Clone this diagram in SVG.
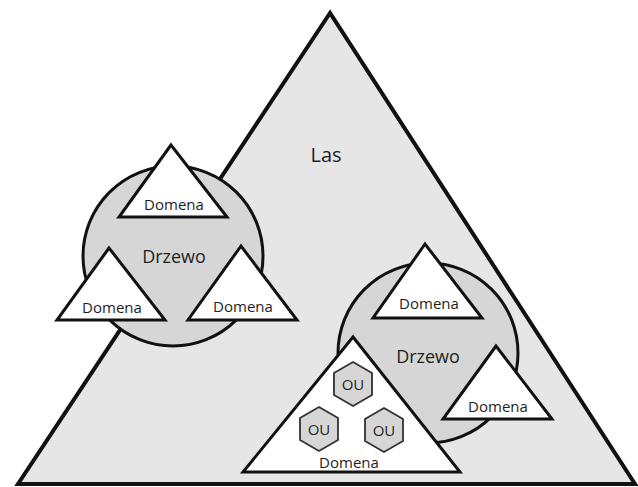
<svg xmlns="http://www.w3.org/2000/svg" width="638" height="487" viewBox="0 0 638 487">
<style>
.tri{fill:#ffffff;stroke:#111;stroke-width:3;stroke-linejoin:miter}
.tree{fill:#d6d6d6;stroke:#111;stroke-width:3}
.hex{fill:#d6d6d6;stroke:#333;stroke-width:1.8}
text{font-family:"Open Sans","Liberation Sans",sans-serif;fill:#1e1e1e;text-anchor:middle}
.dom{font-size:15px}
.drz{font-size:18px}
.ou{font-size:15px}
</style>
<rect width="638" height="487" fill="#ffffff"/>
<g id="las">
<polygon points="330,13 18,484 635,484" fill="#e6e6e6" stroke="#111" stroke-width="4" stroke-linejoin="miter"/>
<text x="326" y="162" style="font-size:20px">Las</text>
</g>
<g id="drzewo1">
<circle cx="173" cy="256" r="90" class="tree"/>
<text class="drz" x="174" y="263">Drzewo</text>
</g>
<g id="drzewo2">
<circle cx="428" cy="353" r="90" class="tree"/>
<text class="drz" x="428" y="363">Drzewo</text>
</g>
<g id="domena1">
<polygon class="tri" points="171,145 119,217 227,217"/>
<text class="dom" x="174" y="210">Domena</text>
</g>
<g id="domena2">
<polygon class="tri" points="109,248 57,320 165,320"/>
<text class="dom" x="112" y="313">Domena</text>
</g>
<g id="domena3">
<polygon class="tri" points="241,246 188,320 297,320"/>
<text class="dom" x="243" y="312">Domena</text>
</g>
<g id="domena4">
<polygon class="tri" points="425,244 373,318 482,318"/>
<text class="dom" x="429" y="309">Domena</text>
</g>
<g id="domena5">
<polygon class="tri" points="496,346 443,419 552,419"/>
<text class="dom" x="498" y="412">Domena</text>
</g>
<g id="domena6">
<polygon class="tri" points="353,337 243,472 460,472"/>
<text class="dom" x="349" y="468">Domena</text>
</g>
<g id="ou1">
<polygon class="hex" points="353,362 372,373 372,395 353,406 334,395 334,373"/>
<text class="ou" x="353" y="390">OU</text>
</g>
<g id="ou2">
<polygon class="hex" points="319,407 338,418 338,440 319,451 300,440 300,418"/>
<text class="ou" x="319" y="435">OU</text>
</g>
<g id="ou3">
<polygon class="hex" points="384,408 403,419 403,441 384,452 365,441 365,419"/>
<text class="ou" x="384" y="436">OU</text>
</g>
<g id="connectors"/>
</svg>
